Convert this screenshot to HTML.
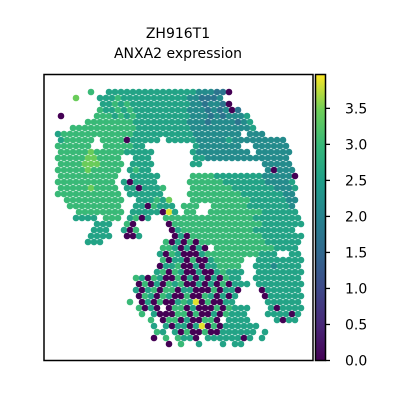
<!DOCTYPE html>
<html><head><meta charset="utf-8"><style>
html,body{margin:0;padding:0;background:#fff;}
svg{display:block;font-family:"DejaVu Sans","Liberation Sans",sans-serif;}
</style></head><body>
<svg id="chart" width="400" height="400">
<defs>
<linearGradient id="vir" x1="0" y1="1" x2="0" y2="0">
<stop offset="0" stop-color="#440154"/><stop offset="0.125" stop-color="#482878"/>
<stop offset="0.25" stop-color="#3e4989"/><stop offset="0.375" stop-color="#31688e"/>
<stop offset="0.5" stop-color="#26828e"/><stop offset="0.625" stop-color="#1f9e89"/>
<stop offset="0.75" stop-color="#35b779"/><stop offset="0.875" stop-color="#6ece58"/>
<stop offset="1" stop-color="#fde725"/></linearGradient>
</defs>
<text x="178" y="38" text-anchor="middle" font-size="14">ZH916T1</text>
<text x="178" y="58" text-anchor="middle" font-size="14">ANXA2 expression</text>
<g id="spots"></g>
<rect x="44" y="74.5" width="269" height="286" fill="none" stroke="#000" stroke-width="1.5"/>
<rect x="315.5" y="74.5" width="10" height="286" fill="url(#vir)" stroke="#000" stroke-width="1.5"/>
<g id="cbticks"></g>
</svg>
<script>
const spotRows = [
"..........................................",
"......7..66666666666666655544" + "0............",
"....8..." + "666766666666666554445" + ".............",
"........" + "6676766666666665545540" + "............",
"........" + "766767666666666555454504" + "..........",
".0....." + "77767676666666665554545556" + ".........",
"......" + "7777777766666666655545555456" + "........",
"..." + "7777777777766666666655555555556" + "........",
"." + "6777777777777666666666655555555.55" + "5......",
"." + "677777.7777066666.666665555565555555" + "55...",
"." + "777777..7777766........65555555..5555" + "55..",
"." + "7777787777766666......6555555555.5555" + "55..",
"." + "77777887777..666.......66555555555555" + "55..",
"." + "77778887777.6666......66..........555" + "55..",
"." + "77777877777.6766..................." + "50555.",
"." + "7777777777..66666....." + "777766666666555550" + ".",
"." + "7777777777.606666....." + "777777666666655556" + ".",
"." + "7777787777.6606667...." + "777777766666665556" + ".",
"." + "77777777777.666666...." + "777777777666666655" + ".",
".." + "7777777777..666768..." + "777777777766666655" + ".",
"..." + "777777777..6607666.777..77777766666665" + ".",
"...." + "77777777.66666096.77..777777777666666" + ".",
"...." + "6666.777.6706.." + "77777777777777766666666",
"......." + "666..70....." + "07777777777777776666666",
"......." + "666..607....." + "067777777777776666666" + ".",
"......" + "6666..006....." + "0607777777777776666666",
"......" + "666.........." + "70607077777777777666666",
".................." + "77606060.77777777776666" + ".",
".................." + "60760006777777777666..66",
".................." + "70660700677777..66666666",
".................." + "06670060667777..66656666",
"................." + "670760060067666..66666666",
".............." + "760760070606060766..66666666",
".............." + "0706076700606070666.66666666",
".............." + "606707706600070660...0666666",
".............." + "07607600700760606....0666666",
"............." + "7.0607006769070066.....666666",
".............." + "7060.07706000707666...606666",
"..............." + "7.6000770700607666...666606",
"..............." + ".7.0770600770.6666....6066.",
"................." + "6.6066069070666666.......",
"................." + "76.60700700666666.6......",
"................." + "0.7.7660.66666606.6......",
"..................." + "0.7..6...6.66........."
];
const digitStep = [0.43];
const cbTicks = [0.0, 0.5, 1.0, 1.5, 2.0, 2.5, 3.0, 3.5];
const cbTickLabels = ["0.0","0.5","1.0","1.5","2.0","2.5","3.0","3.5"];
const vmin = 0, vmax = 3.97;

const vir = ["#440154","#482878","#3e4989","#31688e","#26828e","#1f9e89","#35b779","#6ece58","#fde725"];
function hex2rgb(h){return [1,3,5].map(i=>parseInt(h.substr(i,2),16));}
function viridis(t){
  t=Math.max(0,Math.min(1,t));
  const p=t*(vir.length-1), i=Math.min(vir.length-2,Math.floor(p)), f=p-i;
  const a=hex2rgb(vir[i]), b=hex2rgb(vir[i+1]);
  return "rgb("+a.map((v,k)=>Math.round(v+(b[k]-v)*f)).join(",")+")";
}
function sx(col,row){return 52+6*col+(row%2?3:0);}
function sy(row){return 86+6*row;}
function cy(v){return 360.5-(v-vmin)/(vmax-vmin)*286;}

const NS="http://www.w3.org/2000/svg";
const g=document.getElementById("spots");
spotRows.forEach((row,r)=>{
  for(let c=0;c<row.length;c++){
    const ch=row[c];
    if(ch<"0"||ch>"9") continue;
    const v=parseInt(ch)*digitStep[0];
    const el=document.createElementNS(NS,"circle");
    el.setAttribute("cx",sx(c,r));
    el.setAttribute("cy",sy(r));
    el.setAttribute("r",3.3);
    el.setAttribute("fill",viridis((v-vmin)/(vmax-vmin)));
    
    
    g.appendChild(el);
  }
});
const tg=document.getElementById("cbticks");
cbTicks.forEach((v,i)=>{
  const y=cy(v);
  const ln=document.createElementNS(NS,"line");
  ln.setAttribute("x1",325.5);ln.setAttribute("x2",330);
  ln.setAttribute("y1",y);ln.setAttribute("y2",y);
  ln.setAttribute("stroke","#000");ln.setAttribute("stroke-width","1.3");
  
  
  tg.appendChild(ln);
  const tx=document.createElementNS(NS,"text");
  tx.setAttribute("x",345);tx.setAttribute("y",y+5);
  tx.setAttribute("font-size","14");
  tx.textContent=cbTickLabels[i];
  
  
  tg.appendChild(tx);
});
</script>
</body></html>
